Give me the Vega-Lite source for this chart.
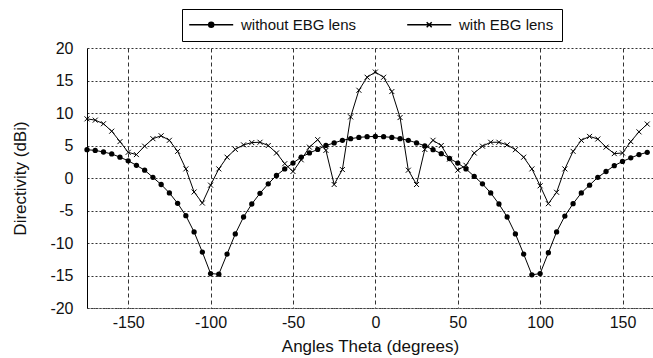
{
  "$schema": "https://vega.github.io/schema/vega-lite/v6.json",
  "autosize": {"type": "none"},
  "padding": {"left": 87, "top": 48, "right": 0, "bottom": 50},
  "width": 566,
  "height": 260,
  "background": "white",
  "config": {
    "view": {"stroke": null},
    "font": "Liberation Sans",
    "axis": {
      "labelFont": "Liberation Sans",
      "titleFont": "Liberation Sans",
      "labelColor": "#111",
      "titleColor": "#111",
      "titleFontWeight": "normal",
      "labelFontSize": 16,
      "titleFontSize": 17,
      "gridColor": "#333",
      "gridWidth": 1,
      "gridOpacity": 1,
      "ticks": false,
      "labelExpr": "replace(datum.label, '\u2212', '-')"
    }
  },
  "data": {
    "values": [
      {"theta": -175, "without EBG lens": 4.35, "with EBG lens": 9.1},
      {"theta": -170, "without EBG lens": 4.25, "with EBG lens": 8.9},
      {"theta": -165, "without EBG lens": 4.0, "with EBG lens": 8.35},
      {"theta": -160, "without EBG lens": 3.7, "with EBG lens": 7.2},
      {"theta": -155, "without EBG lens": 3.2, "with EBG lens": 5.6},
      {"theta": -150, "without EBG lens": 2.65, "with EBG lens": 3.95},
      {"theta": -145, "without EBG lens": 1.95, "with EBG lens": 3.6},
      {"theta": -140, "without EBG lens": 1.2, "with EBG lens": 4.9},
      {"theta": -135, "without EBG lens": 0.1, "with EBG lens": 6.05},
      {"theta": -130, "without EBG lens": -1.0, "with EBG lens": 6.5},
      {"theta": -125, "without EBG lens": -2.3, "with EBG lens": 5.8},
      {"theta": -120, "without EBG lens": -3.9, "with EBG lens": 4.1},
      {"theta": -115, "without EBG lens": -5.8, "with EBG lens": 1.4},
      {"theta": -110, "without EBG lens": -8.3, "with EBG lens": -2.15},
      {"theta": -105, "without EBG lens": -11.4, "with EBG lens": -3.85},
      {"theta": -100, "without EBG lens": -14.7, "with EBG lens": -1.1},
      {"theta": -95, "without EBG lens": -14.8, "with EBG lens": 1.4},
      {"theta": -90, "without EBG lens": -11.7, "with EBG lens": 3.2},
      {"theta": -85, "without EBG lens": -8.6, "with EBG lens": 4.4},
      {"theta": -80, "without EBG lens": -6.0, "with EBG lens": 5.1},
      {"theta": -75, "without EBG lens": -4.0, "with EBG lens": 5.45},
      {"theta": -70, "without EBG lens": -2.35, "with EBG lens": 5.5},
      {"theta": -65, "without EBG lens": -0.9, "with EBG lens": 5.0},
      {"theta": -60, "without EBG lens": 0.4, "with EBG lens": 3.85},
      {"theta": -55, "without EBG lens": 1.4, "with EBG lens": 2.2},
      {"theta": -50, "without EBG lens": 2.3, "with EBG lens": 1.0},
      {"theta": -45, "without EBG lens": 3.2, "with EBG lens": 2.8},
      {"theta": -40, "without EBG lens": 3.85, "with EBG lens": 4.75},
      {"theta": -35, "without EBG lens": 4.4, "with EBG lens": 5.9},
      {"theta": -30, "without EBG lens": 5.0, "with EBG lens": 4.25},
      {"theta": -25, "without EBG lens": 5.4, "with EBG lens": -1.0},
      {"theta": -20, "without EBG lens": 5.8, "with EBG lens": 1.3},
      {"theta": -15, "without EBG lens": 6.05, "with EBG lens": 9.4},
      {"theta": -10, "without EBG lens": 6.25, "with EBG lens": 13.5},
      {"theta": -5, "without EBG lens": 6.35, "with EBG lens": 15.5},
      {"theta": 0, "without EBG lens": 6.4, "with EBG lens": 16.3},
      {"theta": 5, "without EBG lens": 6.35, "with EBG lens": 15.5},
      {"theta": 10, "without EBG lens": 6.25, "with EBG lens": 13.3},
      {"theta": 15, "without EBG lens": 6.05, "with EBG lens": 9.3},
      {"theta": 20, "without EBG lens": 5.8, "with EBG lens": 1.2},
      {"theta": 25, "without EBG lens": 5.4, "with EBG lens": -1.0},
      {"theta": 30, "without EBG lens": 4.95, "with EBG lens": 4.4},
      {"theta": 35, "without EBG lens": 4.35, "with EBG lens": 5.8},
      {"theta": 40, "without EBG lens": 3.75, "with EBG lens": 5.0},
      {"theta": 45, "without EBG lens": 3.0, "with EBG lens": 2.9},
      {"theta": 50, "without EBG lens": 2.3, "with EBG lens": 1.2},
      {"theta": 55, "without EBG lens": 1.4, "with EBG lens": 1.95},
      {"theta": 60, "without EBG lens": 0.25, "with EBG lens": 3.85},
      {"theta": 65, "without EBG lens": -0.9, "with EBG lens": 4.9},
      {"theta": 70, "without EBG lens": -2.3, "with EBG lens": 5.5},
      {"theta": 75, "without EBG lens": -4.0, "with EBG lens": 5.5},
      {"theta": 80, "without EBG lens": -6.0, "with EBG lens": 5.1},
      {"theta": 85, "without EBG lens": -8.6, "with EBG lens": 4.35},
      {"theta": 90, "without EBG lens": -11.7, "with EBG lens": 3.2},
      {"theta": 95, "without EBG lens": -14.9, "with EBG lens": 1.4},
      {"theta": 100, "without EBG lens": -14.7, "with EBG lens": -1.2},
      {"theta": 105, "without EBG lens": -11.5, "with EBG lens": -3.95},
      {"theta": 110, "without EBG lens": -8.3, "with EBG lens": -2.2},
      {"theta": 115, "without EBG lens": -5.85, "with EBG lens": 1.4},
      {"theta": 120, "without EBG lens": -3.95, "with EBG lens": 4.1},
      {"theta": 125, "without EBG lens": -2.3, "with EBG lens": 5.8},
      {"theta": 130, "without EBG lens": -1.1, "with EBG lens": 6.4},
      {"theta": 135, "without EBG lens": 0.1, "with EBG lens": 6.0},
      {"theta": 140, "without EBG lens": 1.0, "with EBG lens": 4.75},
      {"theta": 145, "without EBG lens": 1.9, "with EBG lens": 3.75},
      {"theta": 150, "without EBG lens": 2.55, "with EBG lens": 3.85},
      {"theta": 155, "without EBG lens": 3.1, "with EBG lens": 5.6},
      {"theta": 160, "without EBG lens": 3.6, "with EBG lens": 7.1},
      {"theta": 165, "without EBG lens": 3.95, "with EBG lens": 8.3}
    ]
  },
  "transform": [
    {"fold": ["without EBG lens", "with EBG lens"], "as": ["series", "dir"]}
  ],
  "encoding": {
    "x": {
      "field": "theta",
      "type": "quantitative",
      "scale": {"domain": [-175, 168.5], "nice": false, "zero": false},
      "axis": {
        "title": "Angles Theta (degrees)",
        "values": [-150, -100, -50, 0, 50, 100, 150],
        "gridDash": [4, 3],
        "domainColor": "#444",
        "domainDash": [2, 1],
        "labelPadding": 6,
        "titlePadding": 8
      }
    },
    "y": {
      "field": "dir",
      "type": "quantitative",
      "scale": {"domain": [-20, 20], "nice": false},
      "axis": {
        "title": "Directivity (dBi)",
        "values": [-20, -15, -10, -5, 0, 5, 10, 15, 20],
        "gridDash": [2, 2],
        "domainColor": "black",
        "labelPadding": 14,
        "titlePadding": 20
      }
    }
  },
  "layer": [
    {
      "mark": {"type": "line", "color": "black", "strokeWidth": 1},
      "encoding": {"detail": {"field": "series"}}
    },
    {
      "transform": [{"filter": "datum.series === 'without EBG lens'"}],
      "mark": {"type": "point", "shape": "circle", "filled": true, "color": "black", "size": 28, "opacity": 1}
    },
    {
      "transform": [{"filter": "datum.series === 'with EBG lens'"}],
      "mark": {"type": "point", "shape": "M-1,-1L1,1M-1,1L1,-1", "filled": false, "color": "black", "size": 25, "strokeWidth": 1, "opacity": 1}
    },
    {
      "mark": {"type": "point", "filled": true, "fill": "black", "stroke": "black", "strokeWidth": 1, "size": 100, "opacity": 0},
      "encoding": {
        "shape": {
          "field": "series",
          "type": "nominal",
          "scale": {
            "domain": ["without EBG lens", "with EBG lens"],
            "range": [
              "M-1.66,0H7.14M2.24,0A0.5,0.5 0 1,0 3.24,0A0.5,0.5 0 1,0 2.24,0Z",
              "M-1.66,0H7.14M2.24,-0.5L3.24,0.5M2.24,0.5L3.24,-0.5"
            ]
          },
          "legend": {
            "title": null,
            "orient": "none",
            "direction": "horizontal",
            "legendX": 95,
            "legendY": -39,
            "labelFont": "Liberation Sans",
            "labelFontSize": 15,
            "labelColor": "#111",
            "labelOffset": 36,
            "columnPadding": 47,
            "padding": 8,
            "strokeColor": "black",
            "fillColor": "white",
            "symbolFillColor": "black",
            "encode": {
              "legend": {
                "update": {"strokeWidth": {"value": 1.5}}
              },
              "symbols": {
                "update": {
                  "fill": {"value": "black"},
                  "stroke": {"value": "black"},
                  "strokeWidth": {"value": 1},
                  "strokeOpacity": {"value": 1},
                  "fillOpacity": {"value": 1},
                  "opacity": {"value": 1}
                }
              }
            }
          }
        }
      }
    }
  ]
}
